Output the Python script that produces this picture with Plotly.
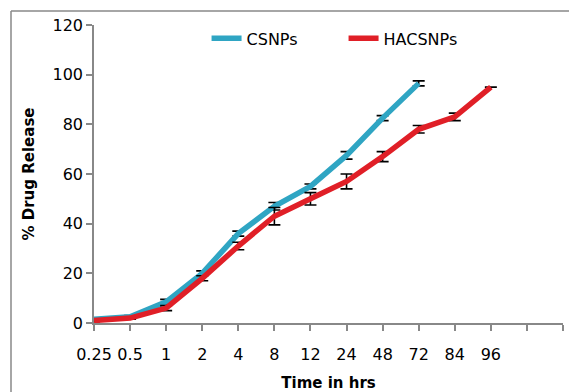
import plotly.graph_objects as go

# Data
time_labels = ["0.25", "0.5", "1", "2", "4", "8", "12", "24", "48", "72", "84", "96"]
csnps = [1.5, 2.5, 8.5, 20, 36, 47, 55, 67.5, 82.5, 96.5]
csnps_err = [0.5, 0.5, 1, 1, 1, 1.5, 1, 1.5, 1, 1]
hacsnps = [1, 2, 6, 18, 31, 43, 50, 57, 67, 78, 83, 95]
hacsnps_err = [0.5, 0.5, 1, 1, 1.5, 3.5, 2.5, 3, 2, 1.5, 1.5, 0]

x_cs = list(range(len(csnps)))
x_ha = list(range(len(hacsnps)))
n_slots = len(time_labels) + 2

fig = go.Figure()
fig.add_trace(go.Scatter(
    x=x_cs, y=csnps, mode="lines", name="CSNPs",
    line=dict(color="#2FA5C3", width=5.5),
    error_y=dict(type="data", array=csnps_err, visible=True, color="black", thickness=1.6, width=6),
))
fig.add_trace(go.Scatter(
    x=x_ha, y=hacsnps, mode="lines", name="HACSNPs",
    line=dict(color="#E01F27", width=5.5),
    error_y=dict(type="data", array=hacsnps_err, visible=True, color="black", thickness=1.6, width=6),
))

font_family = "DejaVu Sans"
# page body has an 8px margin, so the figure is sized/placed to compensate
fig.update_layout(
    width=569, height=384,
    margin=dict(l=86, r=14, t=17, b=69),
    paper_bgcolor="white", plot_bgcolor="white",
    font=dict(family=font_family, color="black"),
    showlegend=True,
    legend=dict(orientation="h", x=0.24, y=0.955, xanchor="left", yanchor="middle",
                font=dict(size=16, family=font_family), bgcolor="rgba(0,0,0,0)",
                entrywidth=92, tracegroupgap=0),
    xaxis=dict(
        range=[0, n_slots - 1],
        tickmode="array", tickvals=list(range(n_slots)),
        ticktext=time_labels + ["", ""],
        ticks="outside", ticklen=6, tickcolor="#888888", tickwidth=1.5,
        showline=True, linecolor="#888888", linewidth=1.5,
        showgrid=False, zeroline=False, automargin=False,
        ticklabelstandoff=10,
        tickfont=dict(size=16, family=font_family),
        title=dict(text="<b>Time in hrs</b>", font=dict(size=15, family=font_family), standoff=15),
    ),
    yaxis=dict(
        range=[0, 120], dtick=20,
        ticks="outside", ticklen=6, tickcolor="#888888", tickwidth=1.5,
        showline=True, linecolor="#888888", linewidth=1.5,
        showgrid=False, zeroline=False, automargin=False,
        tickfont=dict(size=16, family=font_family),
        title=dict(text="<b>% Drug Release</b>", font=dict(size=15, family=font_family), standoff=14),
    ),
    shapes=[
        dict(type="line", xref="paper", yref="paper", x0=-83/469, x1=600/469, y0=1 + 14/298, y1=1 + 14/298,
             line=dict(color="#888888", width=1.5)),
        dict(type="line", xref="paper", yref="paper", x0=-83/469, x1=-83/469, y0=1 + 14/298, y1=-100/298,
             line=dict(color="#888888", width=1.5)),
    ],
)

fig.write_html("out.html")
